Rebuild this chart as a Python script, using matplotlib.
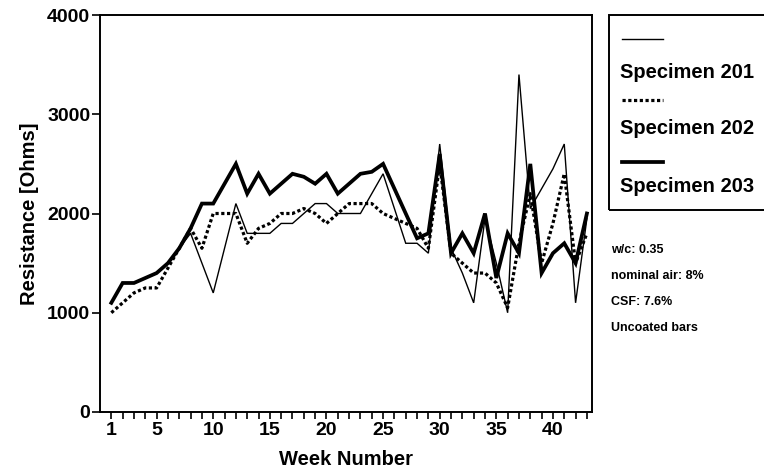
import matplotlib
matplotlib.use("Agg")
import matplotlib.pyplot as plt
from matplotlib.lines import Line2D
from matplotlib.patches import Rectangle
from matplotlib.ticker import FixedLocator

plt.rcParams['font.family'] = ['Liberation Sans', 'DejaVu Sans']

weeks = list(range(1, 44))
spec201 = [1100, 1300, 1300, 1350, 1400, 1500, 1650, 1800, 1500, 1200,
           1650, 2100, 1800, 1800, 1800, 1900, 1900, 2000, 2100, 2100,
           2000, 2000, 2000, 2200, 2400, 2050, 1700, 1700, 1600, 2700,
           1650, 1400, 1100, 1950, 1500, 1000, 3400, 2050, 2250, 2450,
           2700, 1100, 1950]
spec202 = [1000, 1100, 1200, 1250, 1250, 1450, 1650, 1850, 1650, 2000,
           2000, 2000, 1700, 1850, 1900, 2000, 2000, 2050, 2000, 1900,
           2000, 2100, 2100, 2100, 2000, 1950, 1900, 1850, 1650, 2500,
           1600, 1500, 1400, 1400, 1300, 1050, 1700, 2200, 1500, 1900,
           2400, 1500, 1800]
spec203 = [1100, 1300, 1300, 1350, 1400, 1500, 1650, 1850, 2100, 2100,
           2300, 2500, 2200, 2400, 2200, 2300, 2400, 2370, 2300, 2400,
           2200, 2300, 2400, 2420, 2500, 2250, 2000, 1750, 1800, 2600,
           1600, 1800, 1600, 2000, 1350, 1800, 1600, 2500, 1400, 1600,
           1700, 1500, 2000]
x_tick_labels = [1, 5, 10, 15, 20, 25, 30, 35, 40]
y_ticks = [0, 1000, 2000, 3000, 4000]
legend_labels = ["Specimen 201", "Specimen 202", "Specimen 203"]
notes = ["w/c: 0.35", "nominal air: 8%", "CSF: 7.6%", "Uncoated bars"]

W, H = 764, 474
fig = plt.figure(figsize=(W / 100, H / 100), dpi=100)
ax = fig.add_axes([100 / W, 1 - 412 / H, (592 - 100) / W, (412 - 15) / H])

dot_style = (0, (1.0, 0.8))
ax.plot(weeks, spec201, color='black', lw=1.0, solid_joinstyle='miter')
ax.plot(weeks, spec202, color='black', lw=2.3, linestyle=dot_style, dash_capstyle='butt')
ax.plot(weeks, spec203, color='black', lw=2.7, solid_joinstyle='miter')

ax.set_xlim(0, 43.45)
ax.set_ylim(0, 4000)
ax.set_yticks(y_ticks)
ax.set_yticklabels([str(v) for v in y_ticks], fontsize=14, fontweight='bold')
ax.xaxis.set_major_locator(FixedLocator(x_tick_labels))
ax.set_xticklabels([str(v) for v in x_tick_labels], fontsize=14, fontweight='bold')
ax.xaxis.set_minor_locator(FixedLocator(weeks))
ax.tick_params(axis='x', which='both', direction='out', length=5, width=1.2, pad=2)
ax.tick_params(axis='y', direction='out', length=6, width=1.2, pad=1)
for s in ax.spines.values():
    s.set_linewidth(1.4)

ax.set_xlabel("Week Number", fontsize=14.5, fontweight='bold', labelpad=8)
ax.set_ylabel("Resistance [Ohms]", fontsize=14.5, fontweight='bold', labelpad=6)


def fx(px):
    return px / W


def fy(py):
    return 1 - py / H


# legend box
fig.add_artist(Rectangle((fx(609), fy(210)), fx(800) - fx(609), fy(15) - fy(210),
                         transform=fig.transFigure, fill=False, lw=1.4, ec='black'))
styles = [dict(lw=1.0, ls='-'), dict(lw=2.3, ls=dot_style), dict(lw=2.7, ls='-')]
sample_y = [39, 100, 162]
label_y = [72, 129, 187]
for st, sy, ly, lab in zip(styles, sample_y, label_y, legend_labels):
    fig.add_artist(Line2D([fx(622), fx(663)], [fy(sy), fy(sy)], color='black',
                          transform=fig.transFigure, dash_capstyle='butt', **st))
    fig.text(fx(620), fy(ly), lab, fontsize=14.5, fontweight='bold', va='center', ha='left')

for i, t in enumerate(notes):
    fig.text(fx(611), fy(250 + i * 26), t, fontsize=9, fontweight='bold',
             va='center', ha='left')

fig.savefig("out.png", dpi=100)
